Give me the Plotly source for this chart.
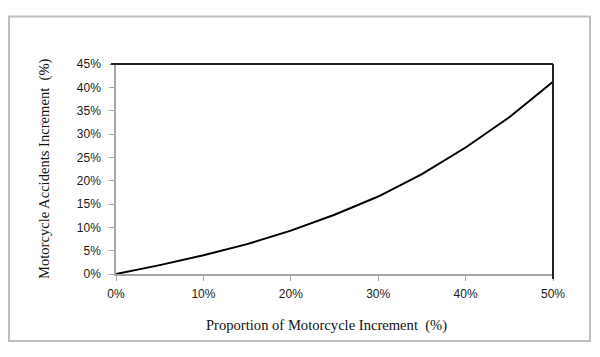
import plotly.graph_objects as go

x_vals = [0, 5, 10, 15, 20, 25, 30, 35, 40, 45, 50]
y_vals = [0, 1.9, 4.0, 6.4, 9.3, 12.7, 16.6, 21.4, 27.1, 33.6, 41.2]
x_ticks = [0, 10, 20, 30, 40, 50]
y_ticks = [0, 5, 10, 15, 20, 25, 30, 35, 40, 45]

# page body has a default 8px margin; lay out in screen coordinates minus that offset
OFF = 8
W, H = 600 - OFF, 357 - OFF
plot_l, plot_r, plot_t, plot_b = 116 - OFF, 553 - OFF, 64 - OFF, 274 - OFF
L, R, T, B = plot_l, W - plot_r, plot_t, H - plot_b
pw, ph = plot_r - plot_l, plot_b - plot_t

def px_x(p):
    return (p - OFF - plot_l) / pw

def px_y(p):
    return (plot_b - (p - OFF)) / ph

fig = go.Figure()
fig.add_trace(go.Scatter(x=x_vals, y=y_vals, mode="lines",
                         line=dict(color="black", width=2), showlegend=False,
                         cliponaxis=False))

tick_font = dict(family="Liberation Sans", size=12, color="#1a1a1a")
fig.update_layout(
    width=W, height=H,
    margin=dict(l=L, r=R, t=T, b=B),
    paper_bgcolor="white", plot_bgcolor="white",
    xaxis=dict(range=[0, 50], tickvals=x_ticks,
               ticktext=[f"{v}%" for v in x_ticks],
               showgrid=False, zeroline=False, showline=True,
               linecolor="#a6a6a6", linewidth=1.5,
               ticks="outside", ticklen=5, tickcolor="#a6a6a6",
               ticklabelstandoff=3,
               tickfont=tick_font),
    yaxis=dict(range=[0, 45], tickvals=y_ticks,
               ticktext=[f"{v}%" for v in y_ticks],
               showgrid=False, zeroline=False, showline=True,
               linecolor="#a6a6a6", linewidth=1.5,
               ticks="outside", ticklen=5, tickcolor="#a6a6a6",
               ticklabelstandoff=6,
               tickfont=tick_font),
    shapes=[
        dict(type="line", xref="paper", yref="paper",
             x0=px_x(111), x1=1, y0=1, y1=1,
             line=dict(color="#222", width=2)),
        dict(type="line", xref="paper", yref="paper",
             x0=1, x1=1, y0=px_y(279), y1=1,
             line=dict(color="#222", width=2)),
        dict(type="rect", xref="paper", yref="paper",
             x0=px_x(9), x1=px_x(590), y0=px_y(341), y1=px_y(16.5),
             line=dict(color="#bfbfbf", width=2)),
    ],
    annotations=[
        dict(text="Proportion of Motorcycle Increment&nbsp;&nbsp;(%)",
             xref="paper", yref="paper", x=px_x(326), y=px_y(325),
             xanchor="center", yanchor="middle", showarrow=False,
             font=dict(family="Liberation Serif", size=14.6, color="#111")),
        dict(text="Motorcycle Accidents Increment&nbsp;&nbsp;(%)",
             xref="paper", yref="paper", x=px_x(44), y=px_y(169),
             xanchor="center", yanchor="middle", showarrow=False, textangle=-90,
             font=dict(family="Liberation Serif", size=14.6, color="#111")),
    ],
)

fig.write_html("out.html")
